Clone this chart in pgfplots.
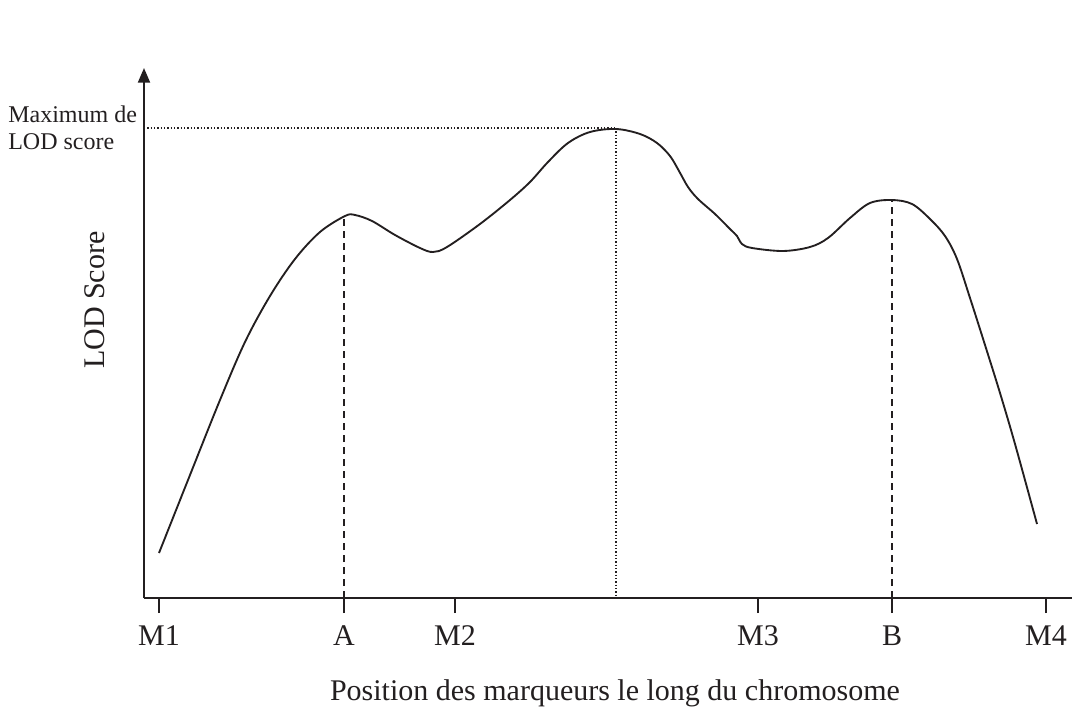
\documentclass[border=0pt]{standalone}
\usepackage{pgfplots}
\pgfplotsset{compat=1.18}
\usepackage{fontspec}
\setmainfont{Liberation Serif}
\usetikzlibrary{arrows.meta}
\definecolor{ink}{RGB}{35,31,32}
\begin{document}
\begin{tikzpicture}[x=0.75pt,y=0.75pt]
\path (0,0) rectangle (1073,711);
\begin{axis}[
  at={(108pt,84.75pt)}, anchor=south west,
  scale only axis, width=696pt, height=397.5pt,
  xmin=144, xmax=1072, ymin=0, ymax=530,
  clip=false,
  axis lines=left,
  x axis line style={-, line width=1.5pt, draw=ink},
  y axis line style={-{Triangle[width=9pt,length=11pt]}, line width=1.5pt, draw=ink},
  xtick={159,344,455,758,892,1046},
  xticklabels={M1,A,M2,M3,B,M4},
  ytick=\empty,
  tick align=outside,
  major tick length=11.25pt,
  tick style={line width=1.3pt, draw=ink},
  xticklabel style={font=\fontsize{22.5}{27}\selectfont, text=ink, yshift=-6pt},
  xlabel={Position des marqueurs le long du chromosome},
  xlabel style={at={(axis description cs:0.5075,-0.1925)}, anchor=base, font=\fontsize{22.5}{27}\selectfont, text=ink},
  ylabel={LOD Score},
  ylabel style={at={(axis description cs:-0.0528,0.562)}, anchor=center, font=\fontsize{22.5}{27}\selectfont, text=ink},
]
% LOD score curve
\addplot[ink, line width=1.4pt, smooth, tension=0.55] coordinates {
(159,45) (190,123) (220,198) (245,256) (270,302) (295,339) (320,366) (345,382)
(355,383) (372,377) (395,363) (420,350) (433,346) (447,351) (480,374) (510,398)
(530,416) (548,436) (568,455) (590,466) (616,469) (640,464) (657,455) (670,442)
(679,427) (688,411) (698,399) (715,384) (730,369) (737,362) (742,354) (752,350)
(783,347) (810,351) (828,360) (850,380) (870,395) (892,398) (912,394) (930,379)
(945,362) (957,339) (970,300) (985,253) (1000,205) (1015,154) (1037,74)
};
% dashed markers A and B
\addplot[ink, line width=1.2pt, dash pattern=on 5.25pt off 3.75pt] coordinates {(344,0) (344,381)};
\addplot[ink, line width=1.2pt, dash pattern=on 5.25pt off 3.75pt] coordinates {(892,0) (892,398)};
% dotted maximum lines
\addplot[ink, line width=0.9pt, dash pattern=on 0.9pt off 1.6pt] coordinates {(144,470) (616,470)};
\addplot[ink, line width=0.9pt, dash pattern=on 0.9pt off 1.6pt] coordinates {(616,470) (616,0)};
\end{axis}
\node[anchor=base west, inner sep=0, text=ink, font=\fontsize{18}{20}\selectfont] at (8,588) {Maximum de};
\node[anchor=base west, inner sep=0, text=ink, font=\fontsize{18}{20}\selectfont] at (8,561) {LOD score};
\end{tikzpicture}
\end{document}
